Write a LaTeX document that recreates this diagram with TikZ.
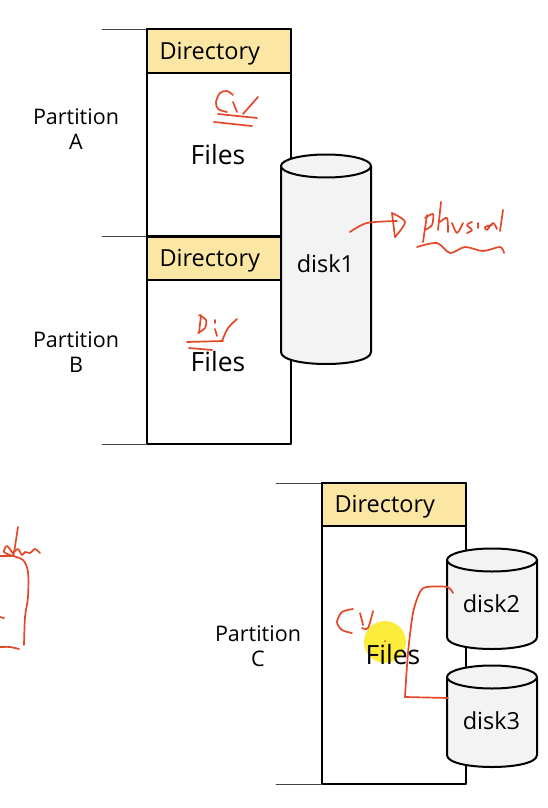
\documentclass[tikz,border=0pt]{standalone}
\usepackage{fontspec}
\setmainfont{Open Sans}
\definecolor{bandcolor}{HTML}{FBE6A3}
\definecolor{diskcolor}{HTML}{F3F3F3}
\definecolor{inkcolor}{HTML}{E4472A}
\definecolor{markercolor}{HTML}{FCEC3C}
\definecolor{tickcolor}{HTML}{444444}
\tikzset{
    boxline/.style={draw=black, line width=2pt},
    tickline/.style={tickcolor, line width=0.7pt},
    inkline/.style={inkcolor, line width=1.7pt},
    dirlabel/.style={anchor=west, font=\fontsize{23.5}{28}\selectfont},
    fileslabel/.style={font=\fontsize{26.5}{32}\selectfont},
    disklabel/.style={font=\fontsize{23.5}{28}\selectfont},
    partlabel/.style={align=center, font=\fontsize{21.5}{25.5}\selectfont}
}

\begin{document}
\begin{tikzpicture}[
    x=1pt,
    y=-1pt,
    line join=round,
    line cap=round
]
    \useasboundingbox (0, 0) rectangle (548, 808);
    \fill[white] (0, 0) rectangle (548, 808);

    % Partition A and B: Boxes
    \draw[boxline] (147, 29) rectangle (291, 236);
    \draw[boxline, fill=bandcolor] (147, 29) rectangle (291, 73);
    \draw[boxline] (147, 237) rectangle (291, 444);
    \draw[boxline, fill=bandcolor] (147, 237) rectangle (291, 280);
    \draw[tickline] (102, 29) -- (146, 29);
    \draw[tickline] (102, 236.5) -- (146, 236.5);
    \draw[tickline] (102, 444) -- (146, 444);

    \node[dirlabel] (dirA) at (156, 54) {Directory};
    \node[dirlabel] (dirB) at (156, 261) {Directory};
    \node[fileslabel] (filesA) at (218, 155) {Files};
    \node[fileslabel] (filesB) at (218, 362) {Files};
    \node[partlabel] (partA) at (76, 129) {Partition\\A};
    \node[partlabel] (partB) at (76, 352) {Partition\\B};

    % disk1
    \draw[boxline, fill=diskcolor] (281, 166) -- (281, 352) .. controls (281, 368) and (371, 368) .. (371, 352) -- (371, 166);
    \draw[boxline, fill=diskcolor] (326, 166) ellipse (45 and 11.5);
    \node[disklabel] (diskA) at (325.5, 264) {disk1};

    % Partition C
    \fill[markercolor] (385, 642) circle (21);
    \draw[boxline] (322, 483) rectangle (466, 784);
    \draw[boxline, fill=bandcolor] (322, 483) rectangle (466, 526);
    \draw[tickline] (276, 483) -- (321, 483);
    \draw[tickline] (276, 784) -- (321, 784);
    \node[dirlabel] (dirC) at (331, 507) {Directory};
    \node[fileslabel] (filesC) at (393, 655) {Files};
    \node[partlabel] (partC) at (258, 646) {Partition\\C};

    % disk2 and disk3
    \draw[boxline, fill=diskcolor] (447, 560) -- (447, 637) .. controls (447, 653) and (537, 653) .. (537, 637) -- (537, 560);
    \draw[boxline, fill=diskcolor] (492, 560) ellipse (45 and 11.5);
    \node[disklabel] (diskB) at (491.5, 604) {disk2};
    \draw[boxline, fill=diskcolor] (447, 677) -- (447, 755) .. controls (447, 771) and (537, 771) .. (537, 755) -- (537, 677);
    \draw[boxline, fill=diskcolor] (492, 677) ellipse (45 and 11.5);
    \node[disklabel] (diskC) at (491.5, 721) {disk3};

    % Red ink: C:/ over Files A
    \draw[inkline] plot[smooth] coordinates {(233, 95) (227, 91) (220, 93) (216, 102) (218, 109) (227, 112)};
    \draw[inkline] (233, 102) -- (237, 112);
    \draw[inkline] (258, 97) -- (243, 114);
    \draw[inkline] (218, 114) -- (257, 118);
    \draw[inkline] (214, 122) -- (252, 126);

    % Red ink: D:/ over Files B
    \draw[inkline] (201, 315) -- (199, 333);
    \draw[inkline] plot[smooth] coordinates {(199, 315) (206, 320) (205, 328) (198, 333)};
    \draw[inkline] (215, 320) -- (215, 323);
    \draw[inkline] (215, 329) -- (217, 336);
    \draw[inkline] plot[smooth] coordinates {(237, 319) (228, 328) (222, 341)};
    \draw[inkline] (187, 342) -- (223, 341);
    \draw[inkline] (189, 348) -- (212, 350);

    % Red ink: arrow and physical
    \draw[inkline] plot[smooth] coordinates {(350, 232) (367, 223) (397, 221)};
    \draw[inkline] plot[smooth] coordinates {(392, 213) (405, 222) (395, 237)};
    \draw[inkline] (392, 213) -- (395, 237);
    \draw[inkline] (427, 215) -- (423, 242);
    \draw[inkline] plot[smooth] coordinates {(425, 218) (433, 214) (432, 225) (425, 230)};
    \draw[inkline] (441, 202) -- (438, 230);
    \draw[inkline] plot[smooth] coordinates {(440, 222) (447, 218) (448, 232)};
    \draw[inkline] plot[smooth] coordinates {(452, 223) (457, 233) (463, 223)};
    \draw[inkline] plot[smooth] coordinates {(472, 222) (467, 225) (472, 230) (467, 233)};
    \draw[inkline] (478, 223) -- (478, 228);
    \draw[inkline] plot[smooth] coordinates {(492, 225) (485, 227) (487, 230) (493, 223) (497, 229)};
    \draw[inkline] (503, 210) -- (500, 231);
    \draw[inkline] plot[smooth] coordinates {(417, 247) (437, 243) (450, 253) (465, 247) (483, 251) (500, 247) (504, 253)};

    % Red ink: left edge
    \draw[inkline] (18, 527) -- (14, 553);
    \draw[inkline] plot[smooth] coordinates {(14, 555) (7, 546) (4, 552) (10, 555) (23, 560) (28, 572) (28, 597) (25, 617) (24, 645)};
    \draw[inkline] (0, 556) -- (13, 556);
    \draw[inkline] plot[smooth] coordinates {(13, 553) (18, 549) (22, 555) (25, 552) (30, 553) (35, 549) (40, 553)};
    \draw[inkline] (0, 617) -- (4, 618);
    \draw[inkline] plot[smooth] coordinates {(0, 647) (10, 647) (19, 649)};

    % Red ink: C:/ and bracket to disk2, disk3
    \draw[inkline] plot[smooth] coordinates {(353, 609) (342, 612) (337, 622) (342, 630) (352, 633)};
    \draw[inkline] (360, 613) -- (363, 625);
    \draw[inkline] plot[smooth] coordinates {(373, 611) (368, 628) (362, 628)};
    \fill[inkcolor] (385, 641) circle (1);
    \draw[inkline] plot[smooth, tension=0.5] coordinates {(453, 593) (447, 587) (427, 587) (420, 592) (413, 613) (408, 653) (405, 697)};
    \draw[inkline] (405, 697) -- (448, 698);
\end{tikzpicture}
\end{document}
